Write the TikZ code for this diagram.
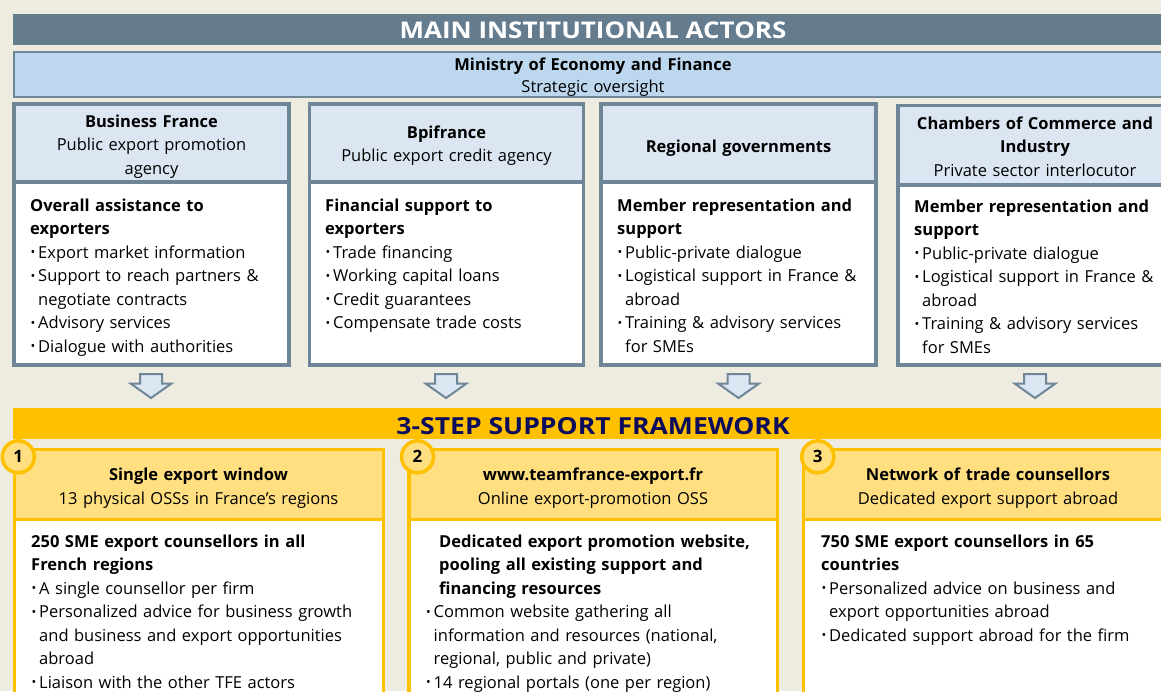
\documentclass[tikz,border=0pt]{standalone}
\usepackage{fontspec}
\usepackage{graphicx}
\setmainfont{Open Sans}
\definecolor{bg}{HTML}{EEEBE0}
\definecolor{banner}{HTML}{657C8F}
\definecolor{slate}{HTML}{6E8698}
\definecolor{mini}{HTML}{BDD7EE}
\definecolor{colhead}{HTML}{DCE6F2}
\definecolor{gold}{HTML}{FFC000}
\definecolor{lightgold}{HTML}{FFDF80}
\definecolor{navy}{HTML}{0C0C5C}
\newcommand\bulx{\makebox[8pt][l]{\hspace{0.5pt}\raisebox{1.2pt}{\fontsize{12.5}{12.5}\selectfont\textbullet}}}
\newcommand\indt{\hspace*{8pt}}
\begin{document}
\begin{tikzpicture}[x=1pt,y=-1pt,
  hd/.style={align=center, text width=300pt, inner sep=0pt, anchor=base, font=\fontsize{16.5}{23.5}\selectfont},
  bd/.style={align=left, text width=345pt, inner sep=0pt, anchor=base west, font=\fontsize{16.5}{23.5}\selectfont},
  colbox/.style={draw=slate, line width=3.5pt},
  stepbox/.style={draw=gold, line width=3.5pt},
  blockarrow/.style={draw=slate, line width=2pt, fill=colhead, line join=miter},
  numcirc/.style={circle, draw=gold, line width=3.5pt, fill=lightgold, minimum size=32pt, inner sep=0pt, font=\fontsize{17}{17}\selectfont\bfseries},
  bigtitle/.style={anchor=base, inner sep=0pt, font=\fontsize{23}{23}\selectfont\bfseries}]
\useasboundingbox (0,0) rectangle (1161,691);
\clip (0,0) rectangle (1161,691);
\fill[bg] (0,0) rectangle (1161,691);

% top banner
\fill[banner] (13,14) rectangle (1180,45);
\node[bigtitle, text=white] (title) at (593,38.5) {\scalebox{1.13}[1]{MAIN INSTITUTIONAL ACTORS}};

% ministry
\draw[draw=slate, line width=2pt, fill=mini] (13.5,51.5) rectangle (1180,97);
\node[hd, text width=500pt, font=\fontsize{16.5}{22}\selectfont] (ministry) at (593,70) {\textbf{Ministry of Economy and Finance}\\Strategic oversight};

% actor columns
\draw[colbox, fill=colhead] (14,104) rectangle (289,182);
\draw[colbox, fill=white] (14,182) rectangle (289,365);
\draw[colbox, fill=colhead] (309.5,104) rectangle (583.5,182);
\draw[colbox, fill=white] (309.5,182) rectangle (583.5,365);
\draw[colbox, fill=colhead] (601,104) rectangle (876,182);
\draw[colbox, fill=white] (601,182) rectangle (876,365);
\draw[colbox, fill=colhead] (898,105.5) rectangle (1180,185);
\draw[colbox, fill=white] (898,185) rectangle (1180,365);

\node[hd] (bfh) at (151.5,127) {\textbf{Business France}\\Public export promotion\\agency};
\node[hd] (bpih) at (446.5,138) {\textbf{Bpifrance}\\Public export credit agency};
\node[hd] (regh) at (738.5,152) {\textbf{Regional governments}};
\node[hd] (ccih) at (1035,129) {\textbf{Chambers of Commerce and}\\\textbf{Industry}\\Private sector interlocutor};

\node[bd] (bfb) at (30,211) {\textbf{Overall assistance to}\\\textbf{exporters}\\\bulx Export market information\\\bulx Support to reach partners \&\\\indt negotiate contracts\\\bulx Advisory services\\\bulx Dialogue with authorities};
\node[bd] (bpib) at (325,211) {\textbf{Financial support to}\\\textbf{exporters}\\\bulx Trade financing\\\bulx Working capital loans\\\bulx Credit guarantees\\\bulx Compensate trade costs};
\node[bd] (regb) at (617,211) {\textbf{Member representation and}\\\textbf{support}\\\bulx Public-private dialogue\\\bulx Logistical support in France \&\\\indt abroad\\\bulx Training \& advisory services\\\indt for SMEs};
\node[bd] (ccib) at (914,212) {\textbf{Member representation and}\\\textbf{support}\\\bulx Public-private dialogue\\\bulx Logistical support in France \&\\\indt abroad\\\bulx Training \& advisory services\\\indt for SMEs};

% block arrows
\foreach \c in {151,446,738.5,1035}
  \draw[blockarrow] (\c-11,374) -- (\c+11,374) -- (\c+11,383.5) -- (\c+20.5,383.5) -- (\c,398) -- (\c-20.5,383.5) -- (\c-11,383.5) -- cycle;

% yellow banner
\fill[gold] (13,408) rectangle (1180,439);
\node[bigtitle, text=navy, font=\fontsize{23.5}{23.5}\selectfont\bfseries] (frame) at (593,434) {\scalebox{1.13}[1]{3-STEP SUPPORT FRAMEWORK}};

% step boxes
\draw[stepbox, fill=lightgold] (14.3,449.5) rectangle (383.3,519.5);
\draw[stepbox, fill=white] (14.3,519.5) rectangle (383.3,720);
\draw[stepbox, fill=lightgold] (409,449.5) rectangle (777.5,519.5);
\draw[stepbox, fill=white] (409,519.5) rectangle (777.5,720);
\draw[stepbox, fill=lightgold] (803.7,449.5) rectangle (1180,519.5);
\draw[stepbox, fill=white] (803.7,519.5) rectangle (1180,720);

\node[hd, text width=360pt, font=\fontsize{16.5}{24}\selectfont] (s1h) at (198.5,480) {\textbf{Single export window}\\13 physical OSSs in France’s regions};
\node[hd, text width=360pt, font=\fontsize{16.5}{24}\selectfont] (s2h) at (593,480) {\textbf{www.teamfrance-export.fr}\\Online export-promotion OSS};
\node[hd, text width=360pt, font=\fontsize{16.5}{24}\selectfont] (s3h) at (988,480) {\textbf{Network of trade counsellors}\\Dedicated export support abroad};

\node[bd] (s1b) at (31,547) {\textbf{250 SME export counsellors in all}\\\textbf{French regions}\\\bulx A single counsellor per firm\\\bulx Personalized advice for business growth\\\indt and business and export opportunities\\\indt abroad\\\bulx Liaison with the other TFE actors};
\node[bd] (s2b) at (425.5,547) {\hspace*{13.5pt}\textbf{Dedicated export promotion website,}\\\hspace*{13.5pt}\textbf{pooling all existing support and}\\\hspace*{13.5pt}\textbf{financing resources}\\\bulx Common website gathering all\\\indt information and resources (national,\\\indt regional, public and private)\\\bulx 14 regional portals (one per region)};
\node[bd] (s3b) at (821,547) {\textbf{750 SME export counsellors in 65}\\\textbf{countries}\\\bulx Personalized advice on business and\\\indt export opportunities abroad\\\bulx Dedicated support abroad for the firm};

% number circles
\node[numcirc] (n1) at (18.3,456.8) {1};
\node[numcirc] (n2) at (417.5,456.8) {2};
\node[numcirc] (n3) at (817.8,456.8) {3};
\end{tikzpicture}
\end{document}
